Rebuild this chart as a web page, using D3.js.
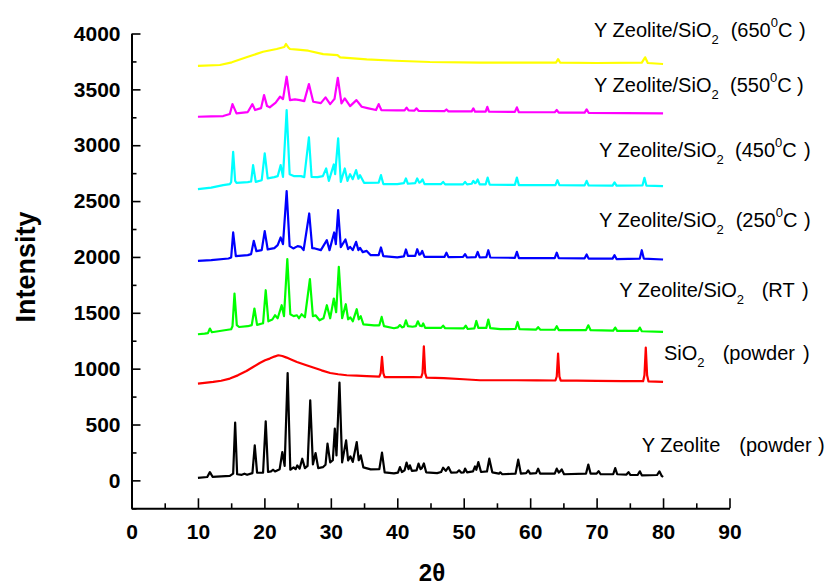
<!DOCTYPE html>
<html>
<head>
<meta charset="utf-8">
<script src="https://cdn.jsdelivr.net/npm/d3@7"></script>
<style>
  body { margin: 0; background: #fff; }
  svg { display: block; font-family: "Liberation Sans", Arial, sans-serif; }
</style>
</head>
<body>
<svg id="chart" width="827" height="588"></svg>
<script>
// XRD patterns: [2θ (deg), intensity (counts, offset per sample)]
const zeolitePowder = [[10,22],[11.4,30],[11.8,74],[12.2,32],[13.5,36],[14.8,40],[15.3,60],[15.6,517],[15.9,55],[16.6,50],[17.0,60],[17.4,50],[18.2,65],[18.55,313],[18.9,70],[19.8,68],[20.2,529],[20.55,75],[21.0,80],[21.3,95],[21.6,80],[22.3,100],[22.7,254],[23.05,130],[23.5,961],[23.9,95],[24.4,116],[24.7,100],[24.95,134],[25.3,105],[25.7,194],[26.1,110],[26.5,130],[26.9,717],[27.3,143],[27.7,245],[28.1,110],[28.8,118],[29.2,140],[29.5,329],[29.9,161],[30.3,180],[30.6,463],[30.85,224],[31.3,875],[31.7,161],[32.3,358],[32.6,179],[32.95,215],[33.3,165],[33.9,343],[34.2,180],[34.5,224],[34.9,116],[36.0,98],[37.3,100],[37.7,248],[38.1,72],[39.5,63],[40.1,70],[40.4,119],[40.7,75],[41.1,90],[41.4,159],[41.7,100],[41.9,134],[42.2,85],[42.9,90],[43.2,150],[43.5,100],[43.7,110],[44.0,152],[44.35,72],[46.0,65],[46.6,75],[46.9,114],[47.3,85],[47.7,119],[48.1,70],[49.0,72],[49.3,90],[49.6,70],[50.0,72],[50.2,105],[50.5,72],[51.4,80],[51.7,125],[51.9,95],[52.2,164],[52.6,75],[53.5,80],[53.85,194],[54.3,72],[55.3,60],[55.5,72],[55.8,55],[57.8,60],[58.2,185],[58.6,60],[59.4,65],[59.7,90],[60.0,60],[60.9,65],[61.2,105],[61.5,60],[63.7,60],[64.0,105],[64.3,70],[64.5,80],[64.75,98],[65.1,55],[68.4,60],[68.75,141],[69.1,60],[70.0,60],[70.3,83],[70.6,55],[72.5,55],[72.8,110],[73.1,55],[74.5,52],[74.8,74],[75.1,48],[76.2,50],[76.5,81],[76.8,45],[79.1,48],[79.45,81],[79.8,40],[80,30]];

const sio2Powder = [[10,866],[11,872],[12.3,881],[13.5,892],[14.8,911],[16,940],[17.3,979],[18.3,1015],[19.3,1051],[20.1,1075],[20.8,1090],[21.5,1108],[22.1,1120],[22.7,1113],[23.35,1099],[24.1,1080],[24.9,1060],[26.1,1035],[27.35,1010],[28.6,985],[29.9,961],[31.1,950],[32.4,941],[33.9,937],[35.4,934],[37.3,929],[37.5,960],[37.7,1105],[37.9,960],[38.1,925],[40,925],[42.4,925],[43.6,923],[43.8,960],[44.0,1200],[44.2,960],[44.4,920],[47,915],[50,905],[52.45,896],[55,896],[58,896],[61,895],[63.8,894],[64.0,930],[64.2,1135],[64.4,930],[64.6,893],[67,892],[70,890],[74,889],[77.0,888],[77.2,940],[77.4,1189],[77.6,940],[77.8,887],[80,881]];

const sampleRT = [[10,1308],[11.0,1313],[11.5,1318],[11.8,1359],[12.1,1326],[14.0,1344],[15.0,1353],[15.2,1380],[15.5,1672],[15.85,1390],[16.2,1373],[17.5,1380],[18.1,1390],[18.5,1538],[18.9,1392],[19.8,1406],[20.2,1702],[20.6,1424],[21.2,1440],[21.6,1478],[22.0,1451],[22.6,1568],[22.95,1470],[23.45,1980],[23.9,1487],[24.4,1470],[24.9,1478],[25.2,1451],[25.6,1487],[26.1,1460],[26.85,1801],[27.3,1469],[27.7,1478],[28.3,1433],[28.9,1451],[29.4,1568],[29.9,1451],[30.45,1628],[30.8,1505],[31.2,1911],[31.7,1451],[32.25,1577],[32.6,1442],[32.95,1458],[33.3,1424],[33.9,1532],[34.2,1442],[34.5,1469],[34.9,1397],[36.5,1388],[37.3,1388],[37.65,1463],[38.0,1380],[39.5,1362],[40.1,1370],[40.4,1390],[40.7,1370],[41.0,1375],[41.3,1433],[41.6,1380],[42.3,1375],[42.8,1380],[43.1,1424],[43.4,1385],[43.7,1380],[43.9,1405],[44.2,1365],[46.6,1365],[46.9,1385],[47.2,1362],[50.0,1360],[50.3,1385],[50.6,1355],[51.6,1360],[51.9,1427],[52.2,1365],[53.4,1365],[53.7,1440],[54.0,1362],[55.5,1353],[57.8,1355],[58.1,1418],[58.4,1353],[60.9,1350],[61.2,1371],[61.5,1350],[63.7,1348],[64.0,1380],[64.3,1345],[68.4,1345],[68.75,1388],[69.1,1344],[72.5,1340],[72.8,1368],[73.1,1338],[76.2,1338],[76.5,1368],[76.8,1335],[80,1329]];

const sample250 = [[10,1965],[12,1971],[14.6,1986],[15.0,1995],[15.3,2219],[15.7,2007],[17.5,2016],[18.0,2025],[18.4,2144],[18.8,2052],[19.6,2061],[20.05,2231],[20.5,2067],[21.5,2079],[22.0,2106],[22.45,2174],[22.8,2115],[23.35,2589],[23.8,2097],[24.35,2076],[25.0,2097],[25.5,2090],[25.9,2061],[26.75,2389],[27.2,2079],[27.6,2076],[28.5,2061],[29.4,2150],[29.8,2061],[30.5,2219],[30.75,2115],[31.1,2419],[31.5,2088],[32.2,2156],[32.6,2070],[32.9,2090],[33.3,2061],[33.8,2135],[34.15,2061],[34.4,2081],[34.8,2043],[35.4,2054],[36,2016],[37.2,2016],[37.55,2085],[37.9,2007],[40,1996],[41.0,2005],[41.3,2067],[41.6,2010],[42.7,2010],[43.0,2069],[43.3,2020],[43.5,2025],[43.75,2054],[44.1,2000],[47.1,2000],[47.4,2038],[47.7,1998],[49.9,2000],[50.2,2025],[50.5,1995],[51.8,1998],[52.1,2045],[52.4,1995],[53.4,1998],[53.7,2060],[54.0,1995],[57.7,1992],[58.0,2045],[58.3,1990],[63.7,1990],[64.0,2038],[64.3,1990],[68.2,1988],[68.5,2022],[68.8,1985],[72.4,1985],[72.7,2016],[73.0,1981],[76.5,1985],[76.8,2060],[77.1,1985],[80,1977]];

const sample450 = [[10,2607],[12,2620],[13.8,2643],[14.8,2652],[15.0,2670],[15.3,2941],[15.6,2680],[15.8,2663],[17.5,2670],[18.0,2675],[18.3,2822],[18.7,2672],[19.6,2687],[20.05,2927],[20.5,2703],[21.5,2714],[22.0,2723],[22.45,2822],[22.8,2717],[23.35,3315],[23.8,2741],[24.5,2723],[25.5,2723],[26.0,2714],[26.7,3070],[27.1,2717],[28.0,2714],[28.8,2723],[29.3,2792],[29.7,2681],[30.45,2828],[30.65,2741],[31.1,3061],[31.5,2672],[32.1,2792],[32.5,2681],[32.9,2741],[33.3,2696],[33.8,2777],[34.15,2700],[34.4,2732],[35.0,2663],[37.2,2665],[37.55,2732],[37.9,2652],[40,2652],[41.0,2660],[41.3,2703],[41.6,2655],[42.7,2660],[43.0,2703],[43.3,2665],[43.5,2670],[43.8,2694],[44.1,2652],[46.6,2652],[46.9,2672],[47.2,2650],[49.9,2650],[50.2,2672],[50.5,2650],[51.2,2655],[51.45,2681],[51.7,2660],[51.85,2665],[52.1,2694],[52.4,2650],[53.3,2650],[53.6,2711],[53.9,2648],[57.7,2645],[58.0,2711],[58.3,2643],[63.8,2643],[64.1,2687],[64.4,2643],[68.2,2640],[68.5,2681],[68.8,2640],[72.4,2638],[72.7,2667],[73.0,2638],[76.9,2640],[77.2,2708],[77.5,2638],[80,2634]];

const sample550 = [[10,3255],[12,3258],[13.8,3261],[14.8,3279],[15.2,3368],[15.8,3285],[17.5,3297],[18.2,3368],[18.6,3315],[19.5,3332],[19.95,3449],[20.4,3350],[20.8,3339],[21.7,3382],[22.35,3434],[22.8,3413],[23.35,3613],[23.85,3404],[24.6,3410],[25.35,3404],[26.0,3395],[26.7,3547],[27.35,3389],[28.5,3377],[29.2,3428],[29.9,3368],[30.4,3404],[30.55,3413],[31.05,3604],[31.6,3375],[32.1,3419],[32.9,3350],[33.85,3404],[34.65,3344],[35.5,3332],[36.8,3315],[37.2,3368],[37.6,3315],[40,3312],[41.1,3312],[41.4,3337],[41.7,3312],[42.6,3310],[42.9,3330],[43.2,3308],[47.1,3305],[47.4,3320],[47.7,3303],[51.2,3303],[51.45,3330],[51.7,3300],[53.3,3300],[53.55,3344],[53.8,3300],[57.7,3298],[58.0,3339],[58.3,3295],[63.7,3295],[64,3315],[64.3,3292],[68.2,3292],[68.5,3321],[68.8,3290],[80,3285]];

const sample650 = [[10,3711],[13.3,3718],[15.1,3742],[17.3,3787],[19.8,3837],[21.85,3861],[23.0,3879],[23.25,3906],[23.6,3875],[23.85,3861],[25.0,3855],[26.6,3846],[28.85,3816],[31.0,3807],[31.4,3787],[35.4,3769],[39.7,3756],[44.9,3745],[52.45,3739],[60,3739],[63.9,3740],[64.2,3771],[64.5,3740],[70,3736],[76.8,3740],[77.3,3787],[77.7,3736],[80,3727]];

const patterns = [zeolitePowder, sio2Powder, sampleRT, sample250, sample450, sample550, sample650];
const patternColors = ["#000000", "#ff0000", "#00ff00", "#0000ff", "#00ffff", "#ff00ff", "#ffff00"];

// Curve labels: main name, subscript, condition, superscript, unit
const labelMain = ["Y Zeolite", "SiO", "Y Zeolite/SiO", "Y Zeolite/SiO", "Y Zeolite/SiO", "Y Zeolite/SiO", "Y Zeolite/SiO"];
const labelSub  = ["", "2", "2", "2", "2", "2", "2"];
const labelCond = ["(powder", "(powder", "(RT", "(250", "(450", "(550", "(650"];
const labelSup  = ["", "", "", "0", "0", "0", "0"];
const labelUnit = ["", "", "", "C", "C", "C", "C"];

const xTicks = [0, 10, 20, 30, 40, 50, 60, 70, 80, 90];
const yTicks = [0, 500, 1000, 1500, 2000, 2500, 3000, 3500, 4000];

// ---- layout ----
const svg = d3.select("#chart");
const x = d3.scaleLinear().domain([0, 90]).range([131.5, 729.5]);
const y = d3.scaleLinear().domain([-250, 4000]).range([508.3, 33.5]);

// label anchors: [x of name, baseline, x of "(", x of ")"]
const labelLayout = [
  [641.7, 451.7, 739.3, 818],
  [664, 360, 722.7, 803],
  [619.3, 296.7, 761.7, 802],
  [599, 226.7, 735.7, 804],
  [599, 156.7, 735, 804],
  [594, 92.3, 730, 797],
  [594, 37.3, 730.7, 799]
];

// ---- traces ----
const line = d3.line().x(d => x(d[0])).y(d => y(d[1]));
svg.append("g")
  .selectAll("path")
  .data(patterns)
  .join("path")
  .attr("d", line)
  .attr("fill", "none")
  .attr("stroke", (d, i) => patternColors[i])
  .attr("stroke-width", 2.2)
  .attr("stroke-linejoin", "round");

// ---- axes ----
const minorX = d3.range(0, 91, 5).filter(v => v % 10 !== 0);
const minorY = d3.range(-250, 4001, 250).filter(v => v % 500 !== 0);

const gx = svg.append("g").attr("transform", `translate(0,${y(-250)})`);
gx.call(d3.axisBottom(x).tickValues(xTicks).tickSizeInner(-10).tickSizeOuter(0).tickPadding(16));
gx.append("g").call(d3.axisBottom(x).tickValues(minorX).tickSizeInner(-5).tickSizeOuter(0).tickFormat(""))
  .select(".domain").remove();

const gy = svg.append("g").attr("transform", `translate(${x(0)},0)`);
gy.call(d3.axisLeft(y).tickValues(yTicks).tickFormat(d3.format("d")).tickSizeInner(-9).tickSizeOuter(0).tickPadding(11));
gy.append("g").call(d3.axisLeft(y).tickValues(minorY).tickSizeInner(-5).tickSizeOuter(0).tickFormat(""))
  .select(".domain").remove();

svg.selectAll(".domain").attr("stroke", "#000").attr("stroke-width", 2);
svg.selectAll(".tick line").attr("stroke", "#000").attr("stroke-width", 1.6);
svg.selectAll(".tick text")
  .attr("fill", "#000")
  .style("font-family", '"Liberation Sans", Arial, sans-serif')
  .style("font-size", "21px")
  .style("font-weight", "bold");
gx.selectAll(".tick text").attr("dy", "0.71em");

// ---- axis titles ----
svg.append("text")
  .attr("transform", "translate(35,267) rotate(-90)")
  .attr("text-anchor", "middle")
  .style("font-size", "27px")
  .style("font-weight", "bold")
  .text("Intensity");

svg.append("text")
  .attr("x", 432).attr("y", 581)
  .attr("text-anchor", "middle")
  .style("font-size", "24px")
  .style("font-weight", "bold")
  .text("2θ");

// ---- curve labels ----
labelMain.forEach((name, i) => {
  const [lx, ly, px, cx] = labelLayout[i];
  const t = svg.append("text")
    .attr("x", lx).attr("y", ly)
    .style("font-size", "20px")
    .attr("fill", "#000");
  t.append("tspan").text(name);
  if (labelSub[i]) {
    t.append("tspan").attr("dy", 7).style("font-size", "13px").text(labelSub[i]);
  }
  t.append("tspan").attr("x", px).attr("y", ly).text(labelCond[i]);
  if (labelSup[i]) {
    t.append("tspan").attr("dy", -10).style("font-size", "13px").text(labelSup[i]);
    t.append("tspan").attr("y", ly).text(labelUnit[i]);
  }
  t.append("tspan").attr("x", cx).attr("y", ly).text(")");
});
</script>
</body>
</html>
